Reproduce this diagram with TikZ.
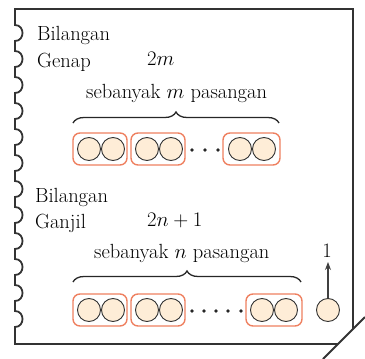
\documentclass[tikz,border=0pt]{standalone}
\usepackage[]{xcolor}
\usepackage{tikz}
\usetikzlibrary{decorations.pathreplacing,arrows.meta}
\definecolor{pairorange}{RGB}{238,128,96}
\definecolor{ballfill}{RGB}{254,237,215}
\tikzset{
  txt/.style={anchor=base west,inner sep=0pt,font=\fontsize{20.5}{24}\selectfont},
  ball/.style={circle,draw=black!80,fill=ballfill,line width=0.9pt,minimum size=23pt,inner sep=0pt},
  pairbox/.style={draw=pairorange,line width=1.4pt,rounded corners=7pt},
  dot/.style={circle,fill=black!85,inner sep=0pt,minimum size=3.8pt},
  brc/.style={decorate,decoration={brace,amplitude=11pt},line width=1.3pt,black!85},
  frame/.style={line width=1.8pt,black!80}
}
\begin{document}
\begin{tikzpicture}[x=1pt,y=-1pt]
    \useasboundingbox (0,0) rectangle (365,359);
    \draw[frame]  (353,329) -- (353,9) -- (15,9)
        \foreach \c in {33,59,...,319} { -- (15,\c-8) .. controls (25,\c-8) and (25,\c+8) .. (15,\c+8) }
        -- (15,344) -- (338,344);
    \draw[frame]  (365,317) -- (323,359);
    % genap
    \node[txt] (bil1) at (37,40) {Bilangan};
    \node[txt] (genap) at (37,67) {Genap};
    \node[txt] (dua1) at (147,65) {$2m$};
    \node[txt] (seb1) at (86,98) {sebanyak $m$ pasangan};
    \draw[brc]    (73,123) -- (279,123);
    \draw[pairbox] (73,133) rectangle (127,165);
    \draw[pairbox] (131,133) rectangle (185,165);
    \draw[pairbox] (223,133) rectangle (280,165);
    \foreach \x/\n in {89/a1,113/a2,147/a3,171/a4,240/a5,264/a6}
        \node[ball] (\n) at (\x,149) {};
    \foreach \x/\n in {192/p1,205/p2,218/p3}
        \node[dot] (\n) at (\x,150) {};
    % ganjil
    \node[txt] (bil2) at (35,202) {Bilangan};
    \node[txt] (ganjil) at (35,228) {Ganjil};
    \node[txt] (dua2) at (147,226) {$2n+1$};
    \node[txt] (seb2) at (94,258) {sebanyak $n$ pasangan};
    \draw[brc]    (73,282) -- (301,282);
    \draw[pairbox] (73,294) rectangle (127,326);
    \draw[pairbox] (131,294) rectangle (185,326);
    \draw[pairbox] (246,294) rectangle (302,326);
    \foreach \x/\n in {89/b1,113/b2,147/b3,171/b4,262/b5,286/b6}
        \node[ball] (\n) at (\x,310) {};
    \foreach \x/\n in {192/q1,204/q2,216/q3,228/q4,241/q5}
        \node[dot] (\n) at (\x,311) {};
    \node[ball] (sisa) at (328,310) {};
    \coordinate (tip) at (328,262);
    \draw[-{Stealth[length=8pt,width=6pt]},line width=1.1pt,black!75] (sisa) -- (tip);
    \node[txt,anchor=base] (satu) at (327,257) {1};
\end{tikzpicture}
\end{document}
